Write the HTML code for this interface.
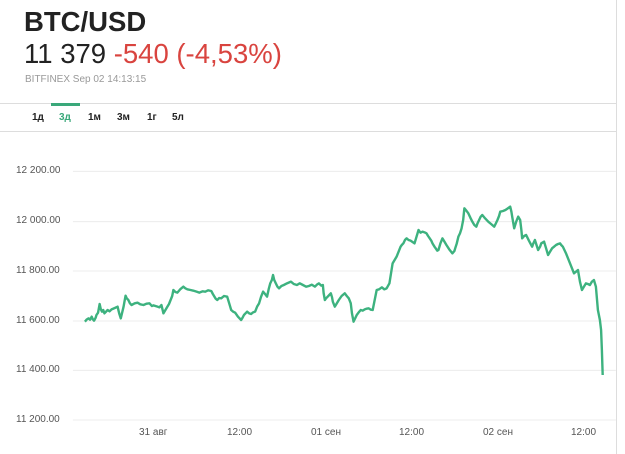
<!DOCTYPE html>
<html><head><meta charset="utf-8"><style>
body{margin:0;width:625px;height:454px;background:#fff;position:relative;overflow:hidden;font-family:"Liberation Sans",sans-serif}
.a{position:absolute;white-space:nowrap}
.yl{position:absolute;left:16px;font-size:10px;color:#555;width:46px}
.xl{position:absolute;top:427px;font-size:10px;color:#555}
.tab{position:absolute;top:112px;font-size:10px;font-weight:bold;color:#222}
</style></head><body>
<div class="a" style="left:24px;top:6px;font-size:27.5px;font-weight:bold;color:#222">BTC/USD</div>
<div class="a" style="left:24px;top:38px;font-size:27.5px;color:#222">11 379 <span style="color:#d9443f">-540 (-4,53%)</span></div>
<div class="a" style="left:25px;top:74px;font-size:10px;color:#999">BITFINEX Sep 02 14:13:15</div>
<div class="a" style="left:0;top:103px;width:616px;height:1px;background:#ddd"></div>
<div class="a" style="left:51px;top:103px;width:29px;height:3px;background:#3aa87a"></div>
<div class="a" style="left:0;top:131px;width:616px;height:1px;background:#ddd"></div>
<div class="a" style="left:616px;top:0;width:1px;height:454px;background:#ddd"></div>
<div class="tab" style="left:32px">1д</div>
<div class="tab" style="left:59px;color:#3aa87a">3д</div>
<div class="tab" style="left:88px">1м</div>
<div class="tab" style="left:117px">3м</div>
<div class="tab" style="left:147px">1г</div>
<div class="tab" style="left:172px">5л</div>
<div class="yl" style="top:165px">12 200.00</div>
<div class="yl" style="top:215px">12 000.00</div>
<div class="yl" style="top:265px">11 800.00</div>
<div class="yl" style="top:315px">11 600.00</div>
<div class="yl" style="top:364px">11 400.00</div>
<div class="yl" style="top:414px">11 200.00</div>
<div class="xl" style="left:139px">31 авг</div>
<div class="xl" style="left:227px">12:00</div>
<div class="xl" style="left:311px">01 сен</div>
<div class="xl" style="left:399px">12:00</div>
<div class="xl" style="left:483px">02 сен</div>
<div class="xl" style="left:571px">12:00</div>
<svg class="a" style="left:0;top:150px" width="625" height="300" viewBox="0 0 1568 900" preserveAspectRatio="none">
<g stroke="#ececec" stroke-width="1">
<line x1="183" x2="1545" y1="64" y2="64" vector-effect="non-scaling-stroke"/>
<line x1="183" x2="1545" y1="215" y2="215" vector-effect="non-scaling-stroke"/>
<line x1="183" x2="1545" y1="363" y2="363" vector-effect="non-scaling-stroke"/>
<line x1="183" x2="1545" y1="513" y2="513" vector-effect="non-scaling-stroke"/>
<line x1="183" x2="1545" y1="661" y2="661" vector-effect="non-scaling-stroke"/>
<line x1="183" x2="1545" y1="810" y2="810" vector-effect="non-scaling-stroke"/>
</g>
<polyline fill="none" stroke="#3db27f" stroke-width="2.4" stroke-linejoin="round" vector-effect="non-scaling-stroke" points="213,515 218,508 222,505 226,509 230,500 233,508 236,512 240,503 242,495 246,488 250,462 253,478 256,485 259,480 262,490 266,485 270,480 275,484 280,478 288,474 295,470 299,490 303,505 307,485 310,470 315,437 318,445 322,450 326,460 330,465 338,460 345,458 352,463 360,465 368,461 375,460 381,468 385,466 395,470 400,472 405,465 410,490 415,480 420,470 424,462 428,450 432,438 435,420 440,426 445,428 452,418 460,410 465,415 470,418 478,420 485,422 493,425 500,428 508,424 515,425 522,421 530,423 534,432 537,438 541,446 545,450 550,444 555,445 562,438 570,440 573,452 575,460 578,472 580,480 585,485 590,488 597,500 605,510 609,502 612,495 616,490 620,485 625,490 630,492 635,487 640,485 645,470 650,460 655,440 660,425 665,432 670,440 674,418 678,400 682,390 685,375 688,390 692,400 696,410 700,415 706,408 712,405 720,400 730,395 737,402 745,405 752,400 760,405 768,410 775,408 782,404 790,410 795,404 800,400 806,407 810,405 812,430 815,450 818,445 822,440 826,435 830,430 833,442 835,455 840,470 844,462 850,450 857,438 865,430 870,438 875,445 880,460 883,490 887,515 891,505 895,495 900,487 905,480 910,482 915,478 920,476 925,475 930,479 935,480 940,450 945,420 951,418 958,412 964,418 970,415 977,400 981,370 985,340 990,330 995,320 1000,305 1005,290 1008,285 1012,280 1016,270 1020,265 1025,270 1030,272 1035,276 1040,280 1045,260 1050,240 1055,248 1060,245 1065,247 1070,250 1074,258 1078,265 1082,272 1085,280 1090,290 1093,295 1097,302 1100,300 1105,280 1110,265 1115,275 1120,285 1127,298 1135,310 1140,303 1142,295 1146,280 1150,260 1154,250 1158,235 1162,210 1165,175 1170,182 1175,190 1180,203 1185,215 1190,225 1195,230 1198,220 1202,210 1206,200 1210,195 1217,205 1225,215 1232,222 1240,230 1244,220 1248,210 1252,198 1255,185 1262,183 1268,180 1274,175 1280,170 1283,185 1285,200 1290,235 1295,215 1300,200 1305,210 1308,240 1310,265 1315,258 1320,255 1327,272 1335,290 1338,280 1342,270 1346,285 1350,300 1355,290 1358,280 1365,275 1370,295 1375,315 1380,305 1385,295 1390,290 1395,285 1400,282 1405,280 1408,285 1412,290 1416,300 1420,310 1425,325 1430,340 1435,355 1440,370 1445,365 1450,360 1455,395 1460,420 1465,410 1470,400 1475,402 1480,405 1485,395 1490,390 1495,410 1500,480 1505,510 1508,540 1510,600 1512,675"/>
</svg>
</body></html>
